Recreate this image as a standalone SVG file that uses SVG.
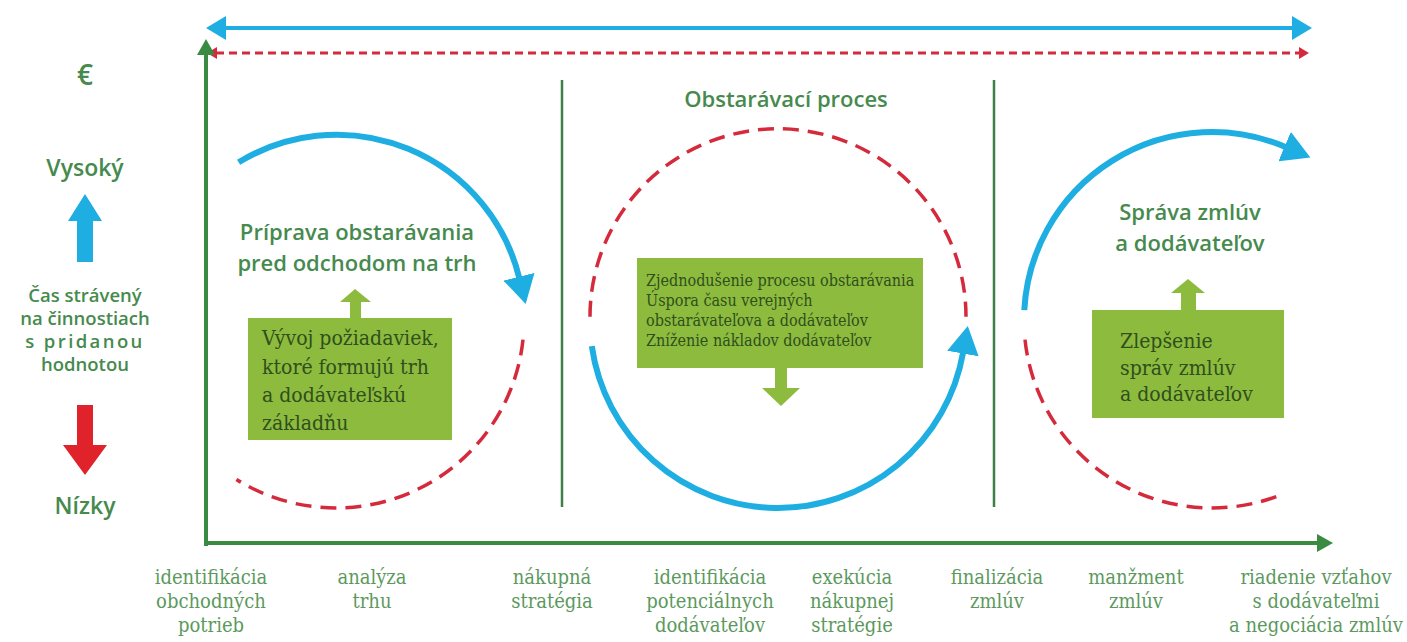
<svg xmlns="http://www.w3.org/2000/svg" width="1407" height="642" viewBox="0 0 1407 642">
<style>
.head{font-family:"Open Sans",Lato,sans-serif;font-weight:600;fill:#468a4e;text-anchor:middle}
.side{font-family:"Open Sans",Lato,sans-serif;font-weight:600;fill:#468a4e;text-anchor:middle}
.box{fill:#8dbb3d}
.boxt{font-family:"DejaVu Serif Condensed","DejaVu Serif",serif;fill:#2f4f1d}
.bot{font-family:"DejaVu Serif Condensed","DejaVu Serif",serif;font-size:20px;fill:#5b995d;text-anchor:middle}
.blue{fill:none;stroke:#1eaee2;stroke-width:6}
.red{fill:none;stroke:#d52a3c;stroke-width:3.5;stroke-dasharray:16 9}
.axis{stroke:#3b8a42;stroke-width:4;fill:none}
.div{stroke:#3f7f48;stroke-width:2.5}
</style>
<defs>
<marker id="ab" markerUnits="userSpaceOnUse" viewBox="0 0 28 32" markerWidth="28" markerHeight="32" refX="1" refY="16" orient="auto"><path d="M0,0 L28,16 L0,32 z" fill="#1eaee2"/></marker>
<marker id="tb" markerUnits="userSpaceOnUse" viewBox="0 0 20 24" markerWidth="20" markerHeight="24" refX="2" refY="12" orient="auto-start-reverse"><path d="M0,0 L20,12 L0,24 z" fill="#1eaee2"/></marker>
<marker id="tr" markerUnits="userSpaceOnUse" viewBox="0 0 10 12" markerWidth="10" markerHeight="12" refX="1" refY="6" orient="auto-start-reverse"><path d="M0,0 L10,6 L0,12 z" fill="#d52a3c"/></marker>
<marker id="ag" markerUnits="userSpaceOnUse" viewBox="0 0 16 18" markerWidth="16" markerHeight="18" refX="1" refY="9" orient="auto"><path d="M0,0 L16,9 L0,18 z" fill="#3b8a42"/></marker>
</defs>
<rect width="1407" height="642" fill="#ffffff"/>

<g id="connectors">
<line x1="224" y1="28" x2="1294" y2="28" stroke="#1eaee2" stroke-width="4" marker-start="url(#tb)" marker-end="url(#tb)"/>
<line x1="216" y1="53" x2="1300" y2="53" stroke="#d52a3c" stroke-width="3" stroke-dasharray="8 5" marker-start="url(#tr)" marker-end="url(#tr)"/>
<line x1="206" y1="546" x2="206" y2="54" class="axis" marker-end="url(#ag)"/>
<line x1="204" y1="543" x2="1318" y2="543" class="axis" marker-end="url(#ag)"/>
<line x1="562" y1="80" x2="562" y2="507" class="div"/>
<line x1="994" y1="80" x2="994" y2="507" class="div"/>
<path class="blue" d="M238.6,162.3 A188,188 0 0 1 519.2,277.7" marker-end="url(#ab)"/>
<path class="red" d="M523,339.6 A188,188 0 0 1 236.4,479.4"/>
<path class="red" d="M590,316.7 A188,188 0 0 1 966,316.7"/>
<path class="blue" d="M591.8,346.2 A188,188 0 0 0 963.1,352.6" marker-end="url(#ab)"/>
<path class="blue" d="M1024.3,310.2 A188,188 0 0 1 1285.5,147" marker-end="url(#ab)"/>
<path class="red" d="M1025,339.6 A188,188 0 0 0 1282.4,494.3"/>
</g>

<g id="legend">
<text x="85" y="85" class="side" font-size="28">€</text>
<text x="85" y="176" class="side" font-size="23">Vysoký</text>
<path d="M85,194 L102,221 L93,221 L93,262 L77,262 L77,221 L68,221 z" fill="#1eaee2"/>
<text class="side" font-size="18.5"><tspan x="85" y="302">Čas strávený</tspan><tspan x="85" y="325">na činnostiach</tspan><tspan x="85" y="348" letter-spacing="2.4">s pridanou</tspan><tspan x="85" y="371">hodnotou</tspan></text>
<path d="M77,405 L93,405 L93,445 L107,445 L85,475 L63,445 L77,445 z" fill="#e0222a"/>
<text x="85" y="514" class="side" font-size="23">Nízky</text>
</g>

<g id="title">
<text x="786" y="107" class="head" font-size="22">Obstarávací proces</text>
</g>

<g id="prep">
<text class="head" font-size="22"><tspan x="357" y="240">Príprava obstarávania</tspan><tspan x="357" y="271">pred odchodom na trh</tspan></text>
<path d="M355,289 L371,302 L361,302 L361,319 L350,319 L350,302 L340,302 z" fill="#8dbb3d"/>
<rect class="box" x="248" y="318" width="204" height="122"/>
<text class="boxt" font-size="21"><tspan x="262" y="345">Vývoj požiadaviek,</tspan><tspan x="262" y="374">ktoré formujú trh</tspan><tspan x="262" y="402">a dodávateľskú</tspan><tspan x="262" y="430">základňu</tspan></text>
</g>

<g id="process">
<rect class="box" x="637" y="258" width="286" height="110"/>
<text class="boxt" font-size="16"><tspan x="646" y="286">Zjednodušenie procesu obstarávania</tspan><tspan x="646" y="306">Úspora času verejných</tspan><tspan x="646" y="326">obstarávateľova a dodávateľov</tspan><tspan x="646" y="346">Zníženie nákladov dodávateľov</tspan></text>
<path d="M775,367 L787,367 L787,388 L800,388 L781,406 L762,388 L775,388 z" fill="#8dbb3d"/>
</g>

<g id="contracts">
<text class="head" font-size="22"><tspan x="1190" y="220">Správa zmlúv</tspan><tspan x="1190" y="251">a dodávateľov</tspan></text>
<path d="M1188,279 L1205,293 L1196,293 L1196,311 L1181,311 L1181,293 L1171,293 z" fill="#8dbb3d"/>
<rect class="box" x="1092" y="310" width="192" height="108"/>
<text class="boxt" font-size="21"><tspan x="1120" y="348">Zlepšenie</tspan><tspan x="1120" y="375">správ zmlúv</tspan><tspan x="1120" y="401">a dodávateľov</tspan></text>
</g>

<g id="steps">
<text class="bot"><tspan x="211" y="584">identifikácia</tspan><tspan x="211" y="608">obchodných</tspan><tspan x="211" y="632">potrieb</tspan></text>
<text class="bot"><tspan x="372" y="584">analýza</tspan><tspan x="372" y="608">trhu</tspan></text>
<text class="bot"><tspan x="552" y="584">nákupná</tspan><tspan x="552" y="608">stratégia</tspan></text>
<text class="bot"><tspan x="710" y="584">identifikácia</tspan><tspan x="710" y="608">potenciálnych</tspan><tspan x="710" y="632">dodávateľov</tspan></text>
<text class="bot"><tspan x="852" y="584">exekúcia</tspan><tspan x="852" y="608">nákupnej</tspan><tspan x="852" y="632">stratégie</tspan></text>
<text class="bot"><tspan x="997" y="584">finalizácia</tspan><tspan x="997" y="608">zmlúv</tspan></text>
<text class="bot"><tspan x="1136" y="584">manžment</tspan><tspan x="1136" y="608">zmlúv</tspan></text>
<text class="bot"><tspan x="1316" y="584">riadenie vzťahov</tspan><tspan x="1316" y="608">s dodávateľmi</tspan><tspan x="1316" y="632">a negociácia zmlúv</tspan></text>
</g>
</svg>
